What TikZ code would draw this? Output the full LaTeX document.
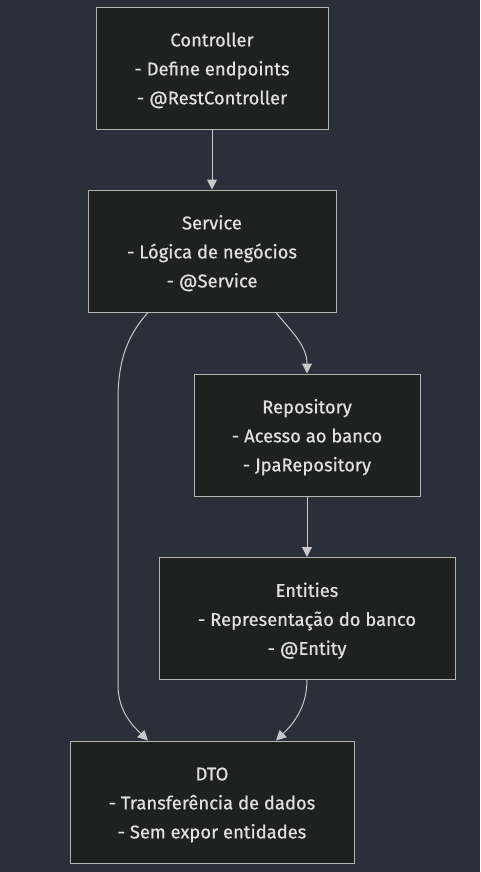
\documentclass[tikz,border=0pt]{standalone}
\usepackage{fontspec}
\setmainfont{Fira Sans}[FakeBold=0.6]
\usetikzlibrary{arrows.meta, positioning}
\definecolor{bgcol}{HTML}{2B2F3A}
\definecolor{boxfill}{HTML}{1F2020}
\definecolor{boxline}{HTML}{B4B4B4}
\definecolor{txtcol}{HTML}{E0E0E0}
\definecolor{linkcol}{HTML}{C8C8C8}
\newcommand{\toppad}{\rule{0pt}{14pt}}

\begin{document}
\begin{tikzpicture}[x=0.75pt,y=0.75pt,yscale=-1,xscale=1,
	box/.style={draw=boxline, fill=boxfill, line width=0.75pt, text=txtcol, align=center, minimum height=91.5pt, font=\fontsize{13.8}{21.75}\selectfont},
	link/.style={draw=linkcol, line width=0.75pt, -{Triangle[length=7.5pt,width=7.5pt]}}]
		%background and page size
		\fill [bgcol] (0,0) rectangle (480,872);
		\useasboundingbox (0,0) rectangle (480,872);

		% Boxes
		\node [box, minimum width=174pt] (controller) at (212,68) {\toppad Controller\\- Define endpoints\\- @RestController};
		\node [box, minimum width=186pt] (service) at (212,251) {\toppad Service\\- Lógica de negócios\\- @Service};
		\node [box, minimum width=169.5pt] (repository) at (307,435) {\toppad Repository\\- Acesso ao banco\\- JpaRepository};
		\node [box, minimum width=222pt] (entities) at (307,618.5) {\toppad Entities\\- Representação do banco\\- @Entity};
		\node [box, minimum width=213pt] (dto) at (212,802) {\toppad DTO\\- Transferência de dados\\- Sem expor entidades};

		% Links
		\draw [link] (controller) -- (service);
		\draw [link] ([xshift=48pt]service.south) .. controls (290,330) and (307,345) .. (repository.north);
		\draw [link] (repository) -- (entities);
		\draw [link] ([xshift=-48pt]service.south) .. controls (125,338) and (118,365) .. (118,400) -- (118,685) .. controls (118,712) and (134,727) .. ([xshift=-48pt]dto.north);
		\draw [link] (entities.south) .. controls (307,710) and (290,727) .. ([xshift=48pt]dto.north);

	\end{tikzpicture}
\end{document}
